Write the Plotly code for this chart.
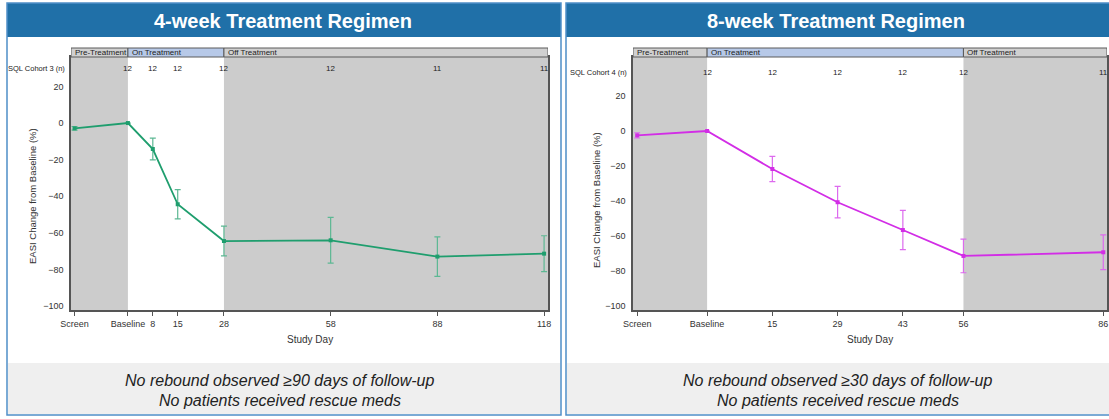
import plotly.graph_objects as go

W, H = 1109, 419
FONT = "Liberation Sans, Arial, sans-serif"

# ---------------- data ----------------
days4 = [-14, 1, 8, 15, 28, 58, 88, 118]
ticks4 = ["Screen", "Baseline", "8", "15", "28", "58", "88", "118"]
easi4 = [-2.9, 0.0, -14.2, -44.4, -64.5, -64.1, -73.0, -71.4]
err4 = [1.0, 0.0, 5.9, 8.0, 8.1, 12.5, 10.8, 9.8]
n_days4 = [1, 8, 15, 28, 58, 88, 118]
n_vals4 = ["12", "12", "12", "12", "12", "11", "11"]

days8 = [-14, 1, 15, 29, 43, 56, 86]
ticks8 = ["Screen", "Baseline", "15", "29", "43", "56", "86"]
easi8 = [-2.5, 0.0, -21.7, -40.7, -56.6, -71.4, -69.3]
err8 = [1.5, 0.0, 7.2, 9.0, 11.2, 9.6, 9.9]
n_days8 = [1, 15, 29, 43, 56, 86]
n_vals8 = ["12", "12", "12", "12", "12", "11"]

ytick_vals = [-100, -80, -60, -40, -20, 0, 20]
phases = ["Pre-Treatment", "On Treatment", "Off Treatment"]
titles = ["4-week Treatment Regimen", "8-week Treatment Regimen"]
cohorts = ["SQL Cohort 3 (n)", "SQL Cohort 4 (n)"]
notes = [["No rebound observed \u226590 days of follow-up", "No patients received rescue meds"],
         ["No rebound observed \u226530 days of follow-up", "No patients received rescue meds"]]
treat_end = [28, 56]


def px(x):
    return x / W


def py(y):
    return 1 - y / H


fig = go.Figure()

GREEN, GREEN_E = "#1f9e6e", "#5cb893"
MAG, MAG_E = "#d22de6", "#dd6aee"

fig.add_trace(go.Scatter(
    x=days4, y=easi4, mode="lines+markers", xaxis="x", yaxis="y",
    line=dict(color=GREEN, width=1.8),
    marker=dict(symbol="square", size=4, color=GREEN),
    error_y=dict(type="data", array=err4, color=GREEN_E, thickness=1.2, width=3),
    showlegend=False, hoverinfo="skip"))

fig.add_trace(go.Scatter(
    x=days8, y=easi8, mode="lines+markers", xaxis="x2", yaxis="y2",
    line=dict(color=MAG, width=1.8),
    marker=dict(symbol="square", size=4, color=MAG),
    error_y=dict(type="data", array=err8, color=MAG_E, thickness=1.2, width=3),
    showlegend=False, hoverinfo="skip"))

# plot geometry (pixels)
plot_top, plot_bot = 57, 310
left_plot = (71, 548)
right_plot = (633, 1107)
xr4 = [-15.0, 119.1]
xr8 = [-14.9, 86.8]
yr4 = [-102.2, 36.1]
yr8 = [-102.3, 42.3]

axis_common = dict(showline=True, linecolor="#555555", linewidth=1.5, mirror=True,
                   showgrid=False, zeroline=False,
                   tickfont=dict(family=FONT, size=9, color="#333333"))

fig.update_layout(
    width=W, height=H, autosize=False,
    margin=dict(l=0, r=0, t=0, b=0, pad=0, autoexpand=False),
    paper_bgcolor="white", plot_bgcolor="white",
    xaxis=dict(domain=[px(left_plot[0]), px(left_plot[1])], range=xr4,
               tickmode="array", tickvals=days4, ticktext=ticks4, tickangle=0,
               ticks="outside", ticklen=4, tickcolor="#555555", anchor="y", **axis_common),
    yaxis=dict(domain=[py(plot_bot), py(plot_top)], range=yr4,
               tickmode="array", tickvals=ytick_vals, ticks="", ticklabelstandoff=4,
               anchor="x", **axis_common),
    xaxis2=dict(domain=[px(right_plot[0]), px(right_plot[1])], range=xr8,
                tickmode="array", tickvals=days8, ticktext=ticks8, tickangle=0,
                ticks="outside", ticklen=4, tickcolor="#555555", anchor="y2", **axis_common),
    yaxis2=dict(domain=[py(plot_bot), py(plot_top)], range=yr8,
                tickmode="array", tickvals=ytick_vals, ticks="", ticklabelstandoff=4,
                anchor="x2", **axis_common),
)

shapes = []
annotations = []

panels = [
    dict(x0=7, x1=561, xa="x", ya="y", xr=xr4, plot=left_plot, title_cx=283, note_cx=280,
         n_days=n_days4, n_vals=n_vals4, n_y=69, cohort=cohorts[0], te=treat_end[0],
         ytitle_x=33, ytitle_y=196),
    dict(x0=566, x1=1112, xa="x2", ya="y2", xr=xr8, plot=right_plot, title_cx=836, note_cx=838,
         n_days=n_days8, n_vals=n_vals8, n_y=73, cohort=cohorts[1], te=treat_end[1],
         ytitle_x=597, ytitle_y=200),
]

GREY = "#cccccc"
for i, p in enumerate(panels):
    # bottom note box
    shapes.append(dict(type="rect", xref="paper", yref="paper", layer="below",
                       x0=px(p["x0"] + 1), x1=px(p["x1"] - 1), y0=py(414), y1=py(363),
                       fillcolor="#efefef", line=dict(width=0)))
    # header band
    shapes.append(dict(type="rect", xref="paper", yref="paper",
                       x0=px(p["x0"]), x1=px(p["x1"]), y0=py(37), y1=py(3),
                       fillcolor="#2070a8", line=dict(width=0)))
    # panel border
    shapes.append(dict(type="rect", xref="paper", yref="paper",
                       x0=px(p["x0"]), x1=px(p["x1"]), y0=py(415), y1=py(3),
                       fillcolor="rgba(0,0,0,0)", line=dict(color="#4f8fc8", width=1.5)))
    # phase shading inside the plot area
    ya_dom = p["ya"] + " domain"
    shapes.append(dict(type="rect", xref=p["xa"], yref=ya_dom, layer="below",
                       x0=p["xr"][0], x1=1, y0=0, y1=1, fillcolor=GREY, line=dict(width=0)))
    shapes.append(dict(type="rect", xref=p["xa"], yref=ya_dom, layer="below",
                       x0=p["te"], x1=p["xr"][1], y0=0, y1=1, fillcolor=GREY, line=dict(width=0)))
    # phase bar above the plot
    bounds = [(p["xr"][0], 1, "#d0d0d0"), (1, p["te"], "#b7c9e8"), (p["te"], p["xr"][1], "#d0d0d0")]
    for (a, b, c), name in zip(bounds, phases):
        shapes.append(dict(type="rect", xref=p["xa"], yref="paper",
                           x0=a, x1=b, y0=py(57), y1=py(48),
                           fillcolor=c, line=dict(color="#5a5a5a", width=1)))
        annotations.append(dict(x=a, y=py(52.5), xref=p["xa"], yref="paper",
                                text=name, showarrow=False, xanchor="left", yanchor="middle",
                                xshift=2, font=dict(family=FONT, size=8, color="#222222")))
    # n row
    annotations.append(dict(x=px(p["plot"][0] - 4), y=py(p["n_y"]), xref="paper", yref="paper",
                            text=p["cohort"], showarrow=False, xanchor="right", yanchor="middle",
                            font=dict(family=FONT, size=7.5, color="#222222")))
    for d, v in zip(p["n_days"], p["n_vals"]):
        annotations.append(dict(x=d, y=py(p["n_y"]), xref=p["xa"], yref="paper",
                                text=v, showarrow=False, xanchor="center", yanchor="middle",
                                font=dict(family=FONT, size=8, color="#222222")))
    # panel title
    annotations.append(dict(x=px(p["title_cx"]), y=py(21), xref="paper", yref="paper",
                            text="<b>" + titles[i] + "</b>", showarrow=False,
                            xanchor="center", yanchor="middle",
                            font=dict(family=FONT, size=20, color="white")))
    # axis titles
    annotations.append(dict(x=px((p["plot"][0] + p["plot"][1]) / 2), y=py(339),
                            xref="paper", yref="paper", text="Study Day", showarrow=False,
                            xanchor="center", yanchor="middle",
                            font=dict(family=FONT, size=10, color="#333333")))
    annotations.append(dict(x=px(p["ytitle_x"]), y=py(p["ytitle_y"]),
                            xref="paper", yref="paper", text="EASI Change from Baseline (%)",
                            showarrow=False, textangle=-90, xanchor="center", yanchor="middle",
                            font=dict(family=FONT, size=9.5, color="#333333")))
    # notes
    for line, yy in zip(notes[i], [380, 400]):
        annotations.append(dict(x=px(p["note_cx"]), y=py(yy), xref="paper", yref="paper",
                                text="<i>" + line + "</i>", showarrow=False,
                                xanchor="center", yanchor="middle",
                                font=dict(family=FONT, size=16, color="#222222")))

fig.update_layout(shapes=shapes, annotations=annotations)
fig.write_html("out.html", config={"displayModeBar": False},
               post_script="document.body.style.margin='0';document.body.style.overflow='hidden';")
